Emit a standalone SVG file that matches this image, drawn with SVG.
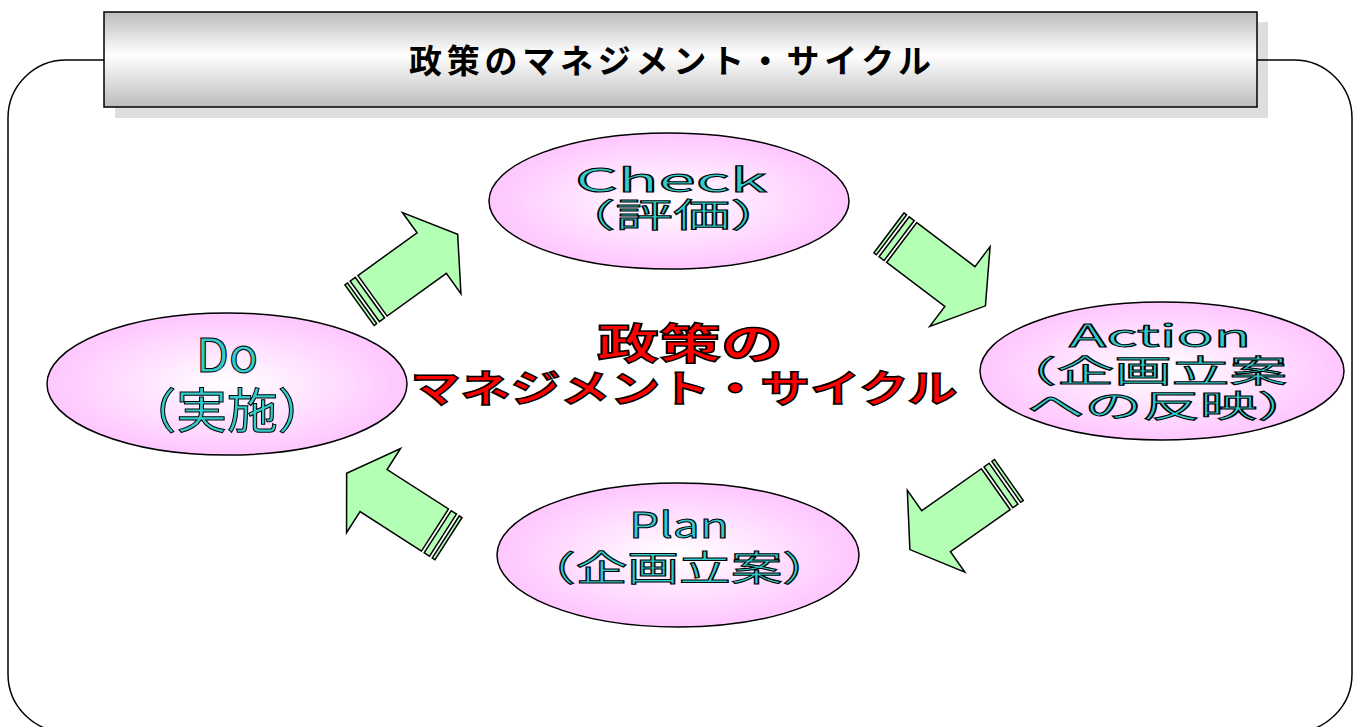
<svg xmlns="http://www.w3.org/2000/svg" xmlns:xlink="http://www.w3.org/1999/xlink" width="1362" height="727" viewBox="0 0 1362 727">
<style>
.frame{fill:none;stroke:#000;stroke-width:1.5}
.ell{fill:url(#pink);stroke:#000;stroke-width:1.5}
.nt{font-family:"Noto Sans CJK JP","Noto Sans",sans-serif;fill:#33cccc;stroke:#000;stroke-width:1;text-anchor:middle}
.ct{font-family:"Noto Sans CJK JP","Noto Sans",sans-serif;font-weight:bold;fill:#ff0000;stroke:#000;stroke-width:1.5;text-anchor:middle}
.tt{font-family:"Noto Sans CJK JP","Noto Sans",sans-serif;font-weight:bold;fill:#000;text-anchor:middle}
.arr{fill:#b3ffb3;stroke:#000;stroke-width:1.5;stroke-linejoin:miter}
</style>
<defs>
<radialGradient id="pink" cx="50%" cy="50%" r="50%">
<stop offset="0" stop-color="#ffffff"/>
<stop offset="1" stop-color="#ffc6ff"/>
</radialGradient>
<linearGradient id="gray" x1="0" y1="0" x2="0" y2="1">
<stop offset="0" stop-color="#bcbcbc"/>
<stop offset="0.45" stop-color="#ffffff"/>
<stop offset="1" stop-color="#bcbcbc"/>
</linearGradient>
<g id="arrow">
<path class="arr" d="M0,-25 L73,-25 L73,-50 L105,0 L73,50 L73,25 L0,25 Z"/>
<rect class="arr" x="-9.5" y="-25" width="6.3" height="50"/>
<rect class="arr" x="-16" y="-25" width="3.2" height="50"/>
</g>
</defs>
<rect width="1362" height="727" fill="#fff"/>
<rect class="frame" x="8" y="60" width="1344" height="672" rx="58" ry="58"/>
<g id="title">
<rect x="115" y="22" width="1153" height="96" fill="#000" fill-opacity="0.13"/>
<rect x="104" y="12" width="1153" height="95" fill="url(#gray)" stroke="#000" stroke-width="1.5"/>
<text class="tt" x="670" y="73" font-size="33" textLength="522" lengthAdjust="spacing">政策のマネジメント・サイクル</text>
</g>
<g id="connectors">
<use xlink:href="#arrow" transform="translate(372.5,295.8) rotate(-35.8)"/>
<use xlink:href="#arrow" transform="translate(901.7,242.5) rotate(37.1)"/>
<use xlink:href="#arrow" transform="translate(995.8,489.2) rotate(144.9)"/>
<use xlink:href="#arrow" transform="translate(435,530) rotate(-147.3)"/>
</g>
<g id="check">
<ellipse class="ell" cx="669" cy="201" rx="180" ry="68"/>
<text class="nt" x="671" y="192" font-size="33" textLength="192" lengthAdjust="spacingAndGlyphs">Check</text>
<text class="nt" x="673" y="227" font-size="33" textLength="230" lengthAdjust="spacingAndGlyphs">（評価）</text>
</g>
<g id="action">
<ellipse class="ell" cx="1162" cy="371" rx="182" ry="69"/>
<text class="nt" x="1160" y="347" font-size="31" textLength="182" lengthAdjust="spacingAndGlyphs">Action</text>
<text class="nt" x="1143" y="382" font-size="31" textLength="288" lengthAdjust="spacingAndGlyphs">（企画立案</text>
<text class="nt" x="1171" y="417" font-size="31" textLength="288" lengthAdjust="spacingAndGlyphs">への反映）</text>
</g>
<g id="plan">
<ellipse class="ell" cx="678" cy="555" rx="181" ry="72"/>
<text class="nt" x="679" y="538" font-size="35" textLength="100" lengthAdjust="spacingAndGlyphs">Plan</text>
<text class="nt" x="679" y="581" font-size="35" textLength="310" lengthAdjust="spacingAndGlyphs">（企画立案）</text>
</g>
<g id="do">
<ellipse class="ell" cx="227" cy="384" rx="180" ry="71"/>
<text class="nt" x="227" y="372" font-size="46" textLength="62" lengthAdjust="spacingAndGlyphs">Do</text>
<text class="nt" x="227" y="428" font-size="48" textLength="203" lengthAdjust="spacingAndGlyphs">（実施）</text>
</g>
<g id="center">
<text class="ct" x="690" y="359" font-size="42" textLength="186" lengthAdjust="spacingAndGlyphs">政策の</text>
<text class="ct" x="684" y="402" font-size="38" textLength="547" lengthAdjust="spacingAndGlyphs">マネジメント・サイクル</text>
</g>
</svg>
